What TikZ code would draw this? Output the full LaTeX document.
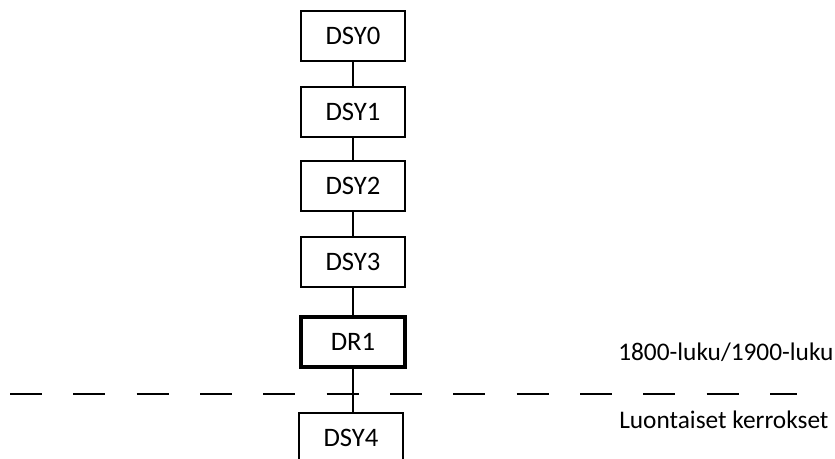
\documentclass[tikz,border=0pt]{standalone}
\usepackage{fontspec}
\setmainfont{Carlito}
\begin{document}
\begin{tikzpicture}[
  x=0.75pt, y=-0.75pt,
  box/.style={draw, line width=1.6pt, minimum width=78pt, minimum height=37pt, inner sep=0pt, font=\fontsize{20}{24}\selectfont},
  boxthick/.style={box, line width=3pt},
  lbl/.style={anchor=west, inner sep=0pt, font=\fontsize{19}{23}\selectfont},
  e/.style={line width=1.6pt}
]
\useasboundingbox (0,0) rectangle (835,459);
% stratigraphic sequence
\node[box] (dsy0) at (353,36) {DSY0};
\node[box] (dsy1) at (353,112) {DSY1};
\node[box] (dsy2) at (353,186) {DSY2};
\node[box] (dsy3) at (353,262) {DSY3};
\node[boxthick] (dr1) at (353,342) {DR1};
\node[box] (dsy4) at (351,438) {DSY4};
\draw[e] (dsy0)--(dsy1);
\draw[e] (dsy1)--(dsy2);
\draw[e] (dsy2)--(dsy3);
\draw[e] (dsy3)--(dr1);
\draw[e] (dr1.south)--(dr1.south|-dsy4.north);

% boundary
\coordinate (bl) at (10,394);
\coordinate (br) at (797,394);
\draw[line width=1.5pt, dash pattern=on 24pt off 23.5pt] (bl)--(br);
\node[lbl] (upper) at (618,352) {1800-luku/1900-luku};
\node[lbl] (lower) at (619,420) {Luontaiset kerrokset};
\end{tikzpicture}
\end{document}
